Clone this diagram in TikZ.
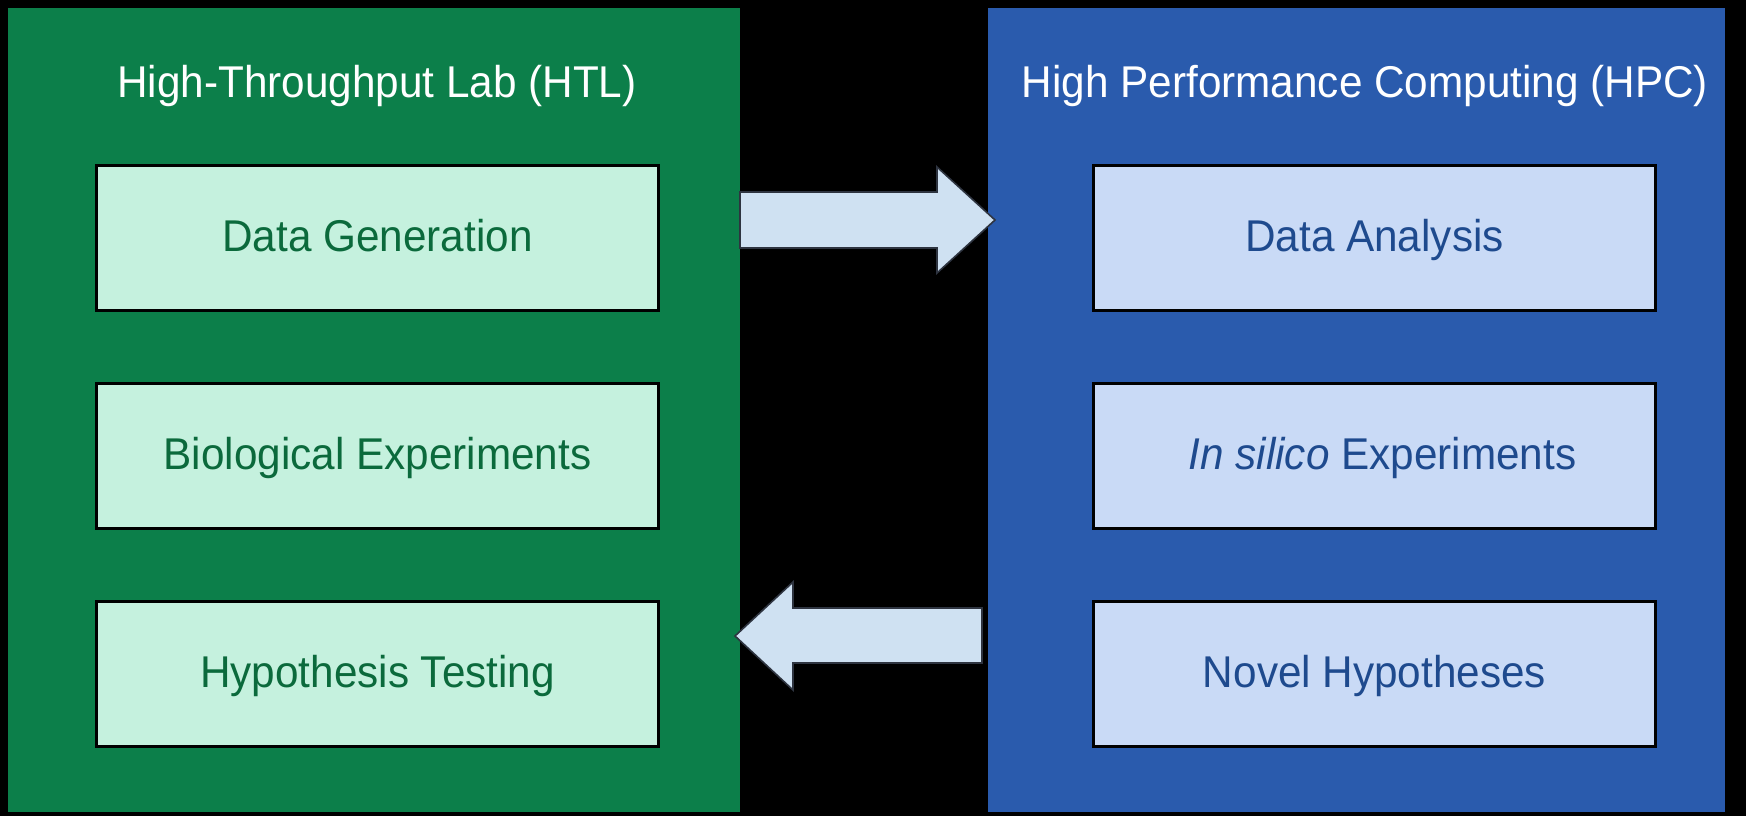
\documentclass[tikz,border=0pt]{standalone}
\usepackage{fontspec}
\setmainfont{Liberation Sans}[FakeStretch=0.95]
\usetikzlibrary{calc}

\definecolor{labgreen}{HTML}{0C7F4A}
\definecolor{labmint}{HTML}{C5F1DE}
\definecolor{labtext}{HTML}{0B6A3C}
\definecolor{hpcblue}{HTML}{2A5BAD}
\definecolor{hpcpale}{HTML}{C9DAF6}
\definecolor{hpctext}{HTML}{1E4A8E}
\definecolor{flowfill}{HTML}{CFE1F2}
\definecolor{flowedge}{HTML}{2E3440}

\begin{document}
\begin{tikzpicture}[x=1pt,y=-1pt,
  panel/.style={draw=none, inner sep=0pt, outer sep=0pt, anchor=north west,
    minimum height=804pt},
  paneltitle/.style={text=white, inner sep=0pt, text height=26pt, text depth=0pt,
    font=\fontsize{44.5}{52}\selectfont},
  stepbox/.style={draw=black, line width=3pt, inner sep=0pt, outer sep=0pt,
    minimum width=562pt, minimum height=145pt, text height=26pt, text depth=0pt,
    font=\fontsize{44.5}{52}\selectfont},
  labbox/.style={stepbox, fill=labmint, text=labtext},
  hpcbox/.style={stepbox, fill=hpcpale, text=hpctext},
  flow/.style={fill=flowfill, draw=flowedge, line width=1.6pt, line join=miter}
]
% black backdrop and page size
\fill[black] (0,0) rectangle (1746,816);
\useasboundingbox (0,0) rectangle (1746,816);

% the two environments
\node[panel, fill=labgreen, minimum width=732pt] (htl) at (8,8) {};
\node[panel, fill=hpcblue, minimum width=737pt] (hpc) at (988,8) {};

\node[paneltitle] (htltitle) at (377,84) {High-Throughput Lab (HTL)};
\node[paneltitle] (hpctitle) at (1365,84) {High Performance Computing (HPC)};

% lab steps
\node[labbox] (gen)  at (377.5,238) {Data Generation};
\node[labbox] (bio)  at (377.5,456) {Biological Experiments};
\node[labbox] (test) at (377.5,674) {Hypothesis Testing};

% computing steps
\node[hpcbox] (ana)  at (1374.5,238) {Data Analysis};
\node[hpcbox] (sil)  at (1374.5,456) {\hspace{16pt}\textit{In silico} Experiments};
\node[hpcbox] (nov)  at (1374.5,674) {Novel Hypotheses};

% data flows from the lab to computing
\coordinate (fwdtail) at ([yshift=-212pt]htl.north east);
\coordinate (fwdtip)  at ([xshift=7pt,yshift=-212pt]hpc.north west);
\draw[flow] ($(fwdtail)+(0,-28)$) -- ($(fwdtip)+(-58,-28)$) -- ($(fwdtip)+(-58,-53)$)
  -- (fwdtip) -- ($(fwdtip)+(-58,53)$) -- ($(fwdtip)+(-58,28)$)
  -- ($(fwdtail)+(0,28)$) -- cycle;

% hypotheses flow back to the lab
\coordinate (backtail) at ([xshift=-6pt,yshift=-628pt]hpc.north west);
\coordinate (backtip)  at ([xshift=-5pt,yshift=-628pt]htl.north east);
\draw[flow] ($(backtail)+(0,-28)$) -- ($(backtip)+(58,-28)$) -- ($(backtip)+(58,-54)$)
  -- (backtip) -- ($(backtip)+(58,54)$) -- ($(backtip)+(58,27)$)
  -- ($(backtail)+(0,27)$) -- cycle;
\end{tikzpicture}
\end{document}
